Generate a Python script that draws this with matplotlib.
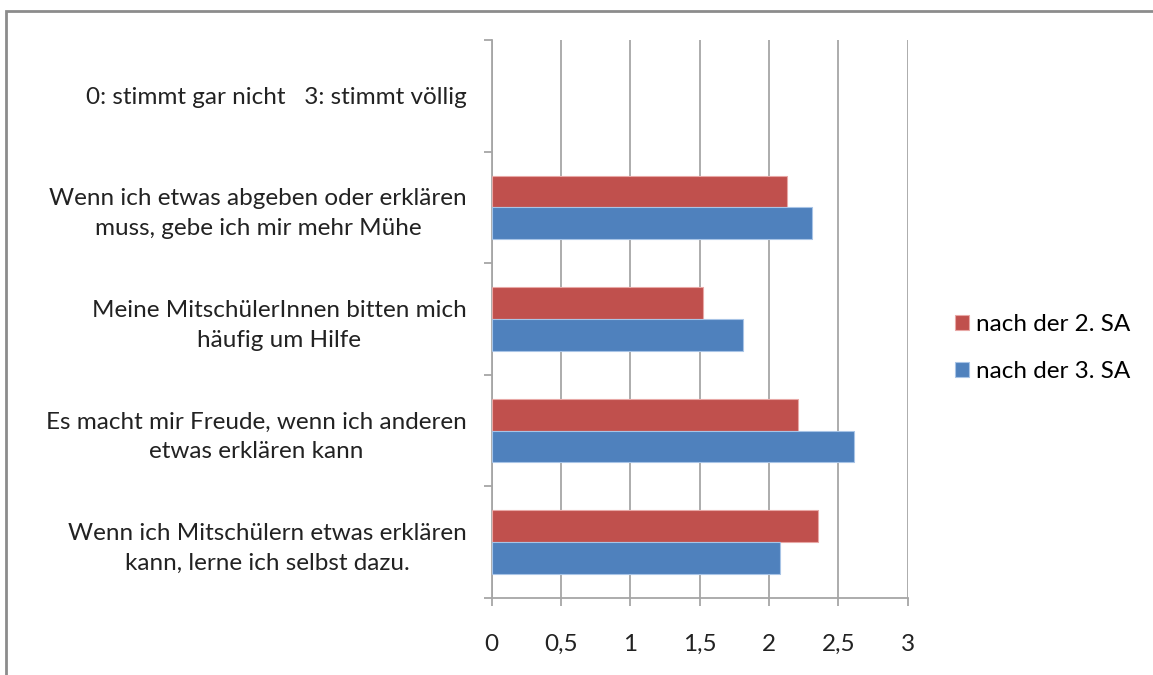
import numpy as np
import matplotlib.pyplot as plt
from matplotlib.patches import Rectangle

plt.rcParams['font.family'] = ['Lato', 'DejaVu Sans']

# categories from bottom to top
categories = [
    "Wenn ich Mitschülern etwas erklären\nkann, lerne ich selbst dazu.",
    "Es macht mir Freude, wenn ich anderen\netwas erklären kann",
    "Meine MitschülerInnen bitten mich\nhäufig um Hilfe",
    "Wenn ich etwas abgeben oder erklären\nmuss, gebe ich mir mehr Mühe",
    "0: stimmt gar nicht   3: stimmt völlig",
]
series_names = ["nach der 2. SA", "nach der 3. SA"]
sa2 = [2.35, 2.21, 1.52, 2.13, np.nan]
sa3 = [2.08, 2.61, 1.81, 2.31, np.nan]
x_ticks = [0, 0.5, 1, 1.5, 2, 2.5, 3]
x_labels = ["0", "0,5", "1", "1,5", "2", "2,5", "3"]

red = '#C0504D'
blue = '#4F81BD'
grid_c = '#A6A6A6'
fs = 17.5

fig = plt.figure(figsize=(11.53, 6.75), dpi=100)
ax = fig.add_axes([0.4265, 0.114, 0.3608, 0.8266])

y = np.arange(len(categories))
h = 0.285
ax.barh(y + h / 2, sa2, height=h, color=red, edgecolor='#E8A8A6', linewidth=0.8,
        label=series_names[0], zorder=3)
ax.barh(y - h / 2, sa3, height=h, color=blue, edgecolor='#A8C4E6', linewidth=0.8,
        label=series_names[1], zorder=3)

ax.set_xlim(0, 3)
ax.set_ylim(-0.5, len(categories) - 0.5)
ax.set_xticks(x_ticks)
ax.set_xticklabels(x_labels, fontsize=fs, color='#222222')
ax.set_yticks(y)
ax.set_yticklabels(categories, fontsize=fs, color='#222222', linespacing=1.5,
                   multialignment='center')
ax.set_yticks(np.arange(-0.5, len(categories)), minor=True)
ax.tick_params(axis='y', which='major', length=0, pad=18)
ax.tick_params(axis='y', which='minor', length=6, color=grid_c, width=1.3, direction='out')
ax.tick_params(axis='x', length=6, color=grid_c, width=1.3, direction='out', pad=20)
ax.xaxis.grid(True, color=grid_c, linewidth=1.3, zorder=0)

for s in ['top', 'right']:
    ax.spines[s].set_visible(False)
for s in ['left', 'bottom']:
    ax.spines[s].set_color(grid_c)
    ax.spines[s].set_linewidth(1.3)

ax.legend(loc='center left', bbox_to_anchor=(1.06, 0.448), frameon=False, fontsize=fs,
          handlelength=0.6, handleheight=0.6, handletextpad=0.3, labelspacing=1.05)

# outer chart border
fig.patches.append(Rectangle((6 / 1153, -0.01), 1.02, 1 - 11 / 675 + 0.01,
                             transform=fig.transFigure, fill=False,
                             edgecolor='#8C8C8C', linewidth=2))

fig.savefig('out.png', dpi=100)
